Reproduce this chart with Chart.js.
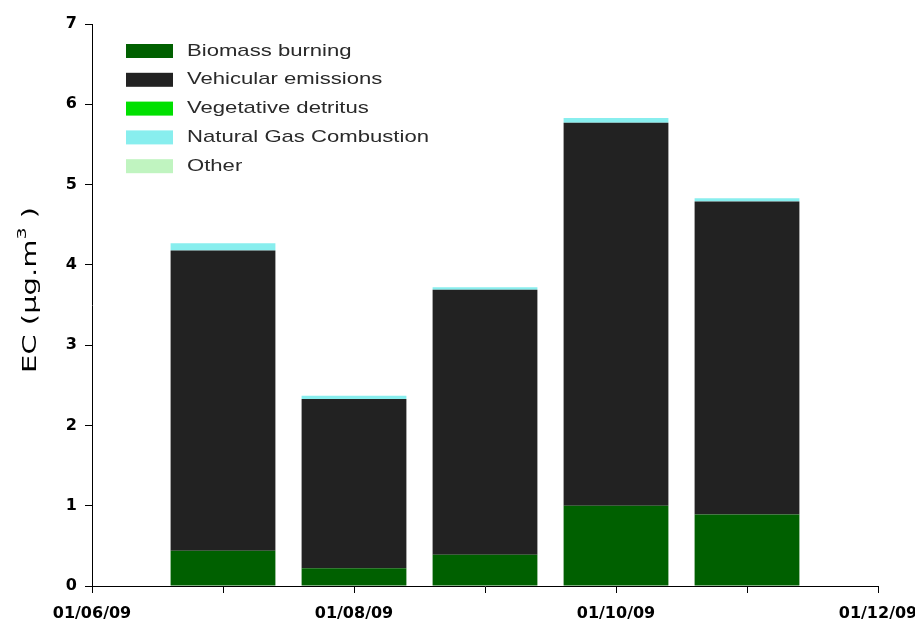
<!DOCTYPE html>
<html>
<head>
<meta charset="utf-8">
<script src="https://cdn.jsdelivr.net/npm/chart.js@4/dist/chart.umd.min.js"></script>
<style>
  html, body { margin: 0; padding: 0; background: #fff; }
  #wrap { width: 915px; height: 628px; }
</style>
</head>
<body>
<div id="wrap"><canvas id="ecChart" width="915" height="628"></canvas></div>
<script>
// month offsets from 01/06/09 (bars sit on the 1st of Jul..Nov)
const months = [1, 2, 3, 4, 5];
const tickLabels = ['01/06/09', '', '01/08/09', '', '01/10/09', '', '01/12/09'];

const seriesNames = ['Biomass burning', 'Vehicular emissions', 'Vegetative detritus', 'Natural Gas Combustion', 'Other'];
const biomass = [0.44, 0.22, 0.39, 1.00, 0.89];
const vehicular = [3.74, 2.11, 3.30, 4.77, 3.90];
const vegetative = [0, 0, 0, 0, 0];
const naturalGas = [0.09, 0.04, 0.03, 0.06, 0.04];
const other = [0, 0, 0, 0, 0];

const colors = ['#006000', '#222222', '#00e000', '#88eeee', '#c0f4c0'];
const values = [biomass, vehicular, vegetative, naturalGas, other];

const SANS = '"Liberation Sans", Arial, sans-serif';
const WIDE = '"DejaVu Sans", sans-serif';

const datasets = seriesNames.map((name, i) => ({
    label: name,
    data: months.map((m, j) => ({ x: m, y: values[i][j] })),
    backgroundColor: colors[i],
    borderWidth: 0,
    barPercentage: 0.8,
    categoryPercentage: 1.0
}));

// legend inside the plot (top-left) and the y title, both stretched a bit wide like the original
const extras = {
    id: 'extras',
    afterDraw(chart) {
        const ctx = chart.ctx;
        const x0 = 126, y0 = 51, rowH = 28.8;
        ctx.save();
        ctx.font = '17px ' + SANS;
        ctx.textBaseline = 'middle';
        chart.data.datasets.forEach((ds, i) => {
            const y = y0 + i * rowH;
            ctx.fillStyle = ds.backgroundColor;
            ctx.fillRect(x0, y - 7, 47, 14);
            ctx.save();
            ctx.translate(x0 + 61, y);
            ctx.scale(1.3, 1);
            ctx.fillStyle = '#2a2a2a';
            ctx.fillText(ds.label, 0, 0);
            ctx.restore();
        });
        ctx.restore();

        // y axis title: EC (µg.m^3)
        ctx.save();
        ctx.translate(31, 290);
        ctx.rotate(-Math.PI / 2);
        ctx.scale(1.45, 1);
        ctx.fillStyle = '#000';
        ctx.textBaseline = 'middle';
        const main = '20px ' + WIDE, sup = '13px ' + WIDE;
        const parts = [['EC (µg.m', main, 0], ['3', sup, -8], [' )', main, 0]];
        let total = 0;
        parts.forEach(p => { ctx.font = p[1]; total += ctx.measureText(p[0]).width; });
        let x = -total / 2;
        parts.forEach(p => {
            ctx.font = p[1];
            ctx.fillText(p[0], x, p[2]);
            x += ctx.measureText(p[0]).width;
        });
        ctx.restore();
    }
};

new Chart(document.getElementById('ecChart'), {
    type: 'bar',
    data: { datasets },
    plugins: [extras],
    options: {
        responsive: false,
        animation: false,
        layout: { padding: { left: 0, top: 24, right: 37, bottom: 0 } },
        plugins: {
            legend: { display: false },
            tooltip: { enabled: false }
        },
        scales: {
            x: {
                type: 'linear',
                stacked: true,
                min: 0,
                max: 6,
                offset: false,
                afterFit: (s) => { s.height = 42; s.paddingLeft = 0; s.paddingRight = 0; },
                border: { display: true, color: '#000', width: 1 },
                grid: { display: true, offset: false, drawOnChartArea: false, drawTicks: true, tickLength: 7, color: '#000' },
                ticks: {
                    stepSize: 1,
                    autoSkip: false,
                    maxRotation: 0,
                    padding: 11,
                    color: '#000',
                    font: { family: WIDE, size: 16, weight: 'bold' },
                    callback: (v) => tickLabels[v]
                }
            },
            y: {
                stacked: true,
                min: 0,
                max: 7,
                afterFit: (s) => { s.width = 92; s.paddingTop = 0; s.paddingBottom = 0; },
                border: { display: true, color: '#000', width: 1 },
                grid: { display: true, drawOnChartArea: false, drawTicks: true, tickLength: 7, color: '#000' },
                ticks: {
                    stepSize: 1,
                    padding: 8,
                    color: '#000',
                    font: { family: WIDE, size: 16, weight: 'bold' }
                }
            }
        }
    }
});
</script>
</body>
</html>
